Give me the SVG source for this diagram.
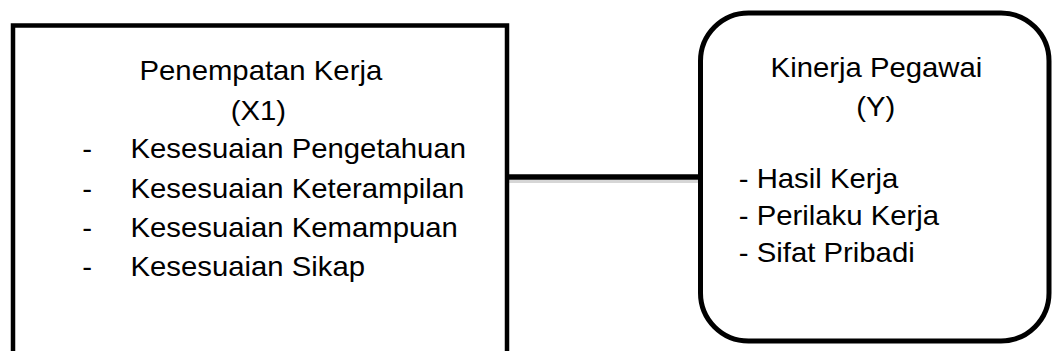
<svg xmlns="http://www.w3.org/2000/svg" width="1052" height="351" viewBox="0 0 1052 351">
<style>
.box{fill:#fff;stroke:#000;stroke-width:4.5}
.t{font-family:"Liberation Sans",Arial,sans-serif;font-size:28.5px;fill:#000}
.conn{stroke:#000;stroke-width:5.5;fill:none}
.shadow{stroke:#bbb;stroke-width:3;fill:none;opacity:0.6}
</style>
<g id="connectors">
<line class="shadow" x1="507" y1="181.5" x2="700" y2="181.5"/>
<line class="conn" x1="507" y1="177" x2="700" y2="177"/>
</g>
<g id="node-x1">
<rect class="box" x="13" y="25.5" width="494" height="340"/>
<text class="t" x="139.5" y="80" textLength="242.7" lengthAdjust="spacingAndGlyphs">Penempatan Kerja</text>
<text class="t" x="230.7" y="120" textLength="55.3" lengthAdjust="spacingAndGlyphs">(X1)</text>
<text class="t" x="82.2" y="158" textLength="9.8" lengthAdjust="spacingAndGlyphs">-</text>
<text class="t" x="130.5" y="158" textLength="335.5" lengthAdjust="spacingAndGlyphs">Kesesuaian Pengetahuan</text>
<text class="t" x="82.2" y="198" textLength="9.8" lengthAdjust="spacingAndGlyphs">-</text>
<text class="t" x="130.5" y="198" textLength="333.8" lengthAdjust="spacingAndGlyphs">Kesesuaian Keterampilan</text>
<text class="t" x="82.2" y="237" textLength="9.8" lengthAdjust="spacingAndGlyphs">-</text>
<text class="t" x="130.5" y="237" textLength="327.3" lengthAdjust="spacingAndGlyphs">Kesesuaian Kemampuan</text>
<text class="t" x="82.2" y="276" textLength="9.8" lengthAdjust="spacingAndGlyphs">-</text>
<text class="t" x="130.5" y="276" textLength="234.5" lengthAdjust="spacingAndGlyphs">Kesesuaian Sikap</text>
</g>
<g id="node-y">
<rect class="box" x="700.5" y="13" width="348.5" height="328" rx="48" ry="48" style="stroke-width:5"/>
<text class="t" x="770.6" y="77" textLength="211.7" lengthAdjust="spacingAndGlyphs">Kinerja Pegawai</text>
<text class="t" x="856.3" y="116" textLength="39" lengthAdjust="spacingAndGlyphs">(Y)</text>
<text class="t" x="738.8" y="188" textLength="159.5" lengthAdjust="spacingAndGlyphs">- Hasil Kerja</text>
<text class="t" x="738.8" y="225" textLength="200.3" lengthAdjust="spacingAndGlyphs">- Perilaku Kerja</text>
<text class="t" x="738.8" y="262" textLength="175.9" lengthAdjust="spacingAndGlyphs">- Sifat Pribadi</text>
</g>
</svg>
